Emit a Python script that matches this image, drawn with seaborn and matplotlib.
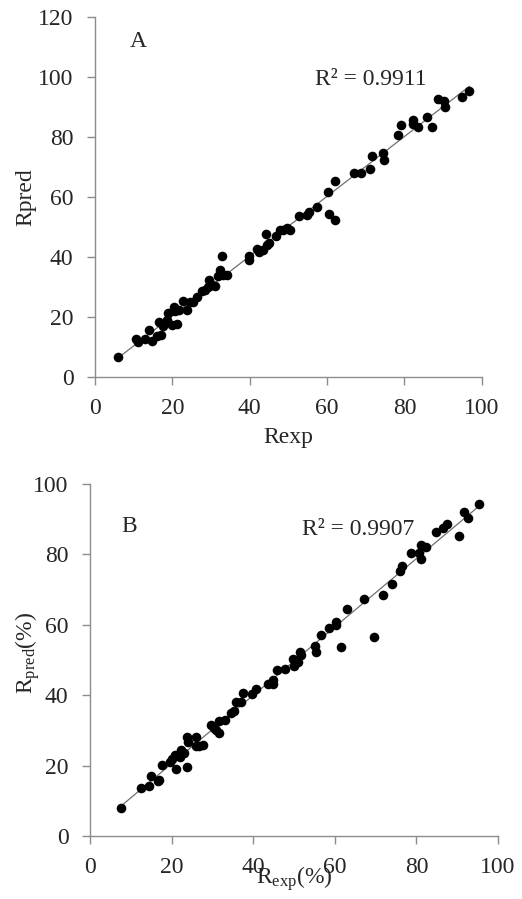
import numpy as np
import pandas as pd
import seaborn as sns
import matplotlib.pyplot as plt

# panel A data
rexp_a = [6.0, 10.6, 11.0, 12.9, 14.0, 14.7, 16.0, 16.6, 17.1, 17.7, 18.5, 19.0, 19.8, 20.3,
          21.3, 20.7, 21.8, 22.8, 23.7, 24.6, 25.4, 26.3, 27.6, 28.4, 29.3, 29.6, 30.2, 31.0,
          31.9, 32.3, 32.9, 33.2, 34.1, 39.7, 39.9, 41.8, 42.5, 43.5, 44.1, 45.1, 44.4, 46.8,
          47.8, 48.7, 49.6, 50.3, 52.8, 54.7, 55.2, 57.5, 60.2, 60.5, 62.1, 62.1, 67.0, 68.8,
          71.1, 71.5, 74.4, 74.8, 78.4, 79.0, 82.1, 82.3, 83.6, 85.8, 87.1, 88.8, 90.1, 90.5,
          95.0, 96.8]
rpred_a = [6.7, 12.7, 11.7, 12.7, 15.7, 12.0, 13.6, 18.2, 14.1, 16.9, 19.1, 21.3, 17.4, 23.2,
           17.7, 21.9, 22.4, 25.2, 22.4, 25.0, 25.0, 26.7, 28.6, 29.1, 29.9, 32.4, 30.8, 30.4,
           33.8, 35.8, 40.2, 34.1, 34.1, 39.1, 40.2, 42.7, 41.6, 42.4, 47.7, 44.7, 44.1, 47.1,
           48.9, 49.1, 49.7, 49.1, 53.6, 54.1, 55.0, 56.7, 61.6, 54.4, 52.2, 65.2, 68.1, 68.1,
           69.2, 73.7, 74.8, 72.3, 80.6, 84.0, 85.7, 84.3, 83.2, 86.8, 83.2, 92.6, 92.1, 90.1,
           93.4, 95.3]

# panel B data
rexp_b = [7.6, 12.5, 14.4, 14.9, 16.6, 17.0, 17.7, 19.6, 20.2, 20.8, 21.2, 22.0, 22.4, 23.0,
          23.8, 23.8, 24.1, 25.9, 26.1, 26.8, 27.6, 29.6, 30.4, 31.0, 31.6, 31.7, 33.1, 34.5,
          35.3, 35.7, 37.1, 37.6, 39.8, 40.8, 43.7, 44.9, 44.9, 45.9, 47.8, 50.0, 49.8, 51.0,
          51.4, 51.7, 55.1, 55.5, 61.6, 56.7, 58.5, 60.2, 60.4, 63.0, 67.2, 69.6, 71.8, 73.9,
          75.9, 76.5, 78.8, 80.7, 81.1, 81.2, 82.4, 84.7, 86.4, 87.6, 90.4, 91.7, 92.7, 95.3]
rpred_b = [8.0, 13.6, 14.3, 17.0, 15.7, 15.9, 20.3, 21.0, 22.0, 23.0, 18.9, 22.3, 24.4, 23.5,
           28.2, 19.5, 26.6, 28.2, 25.6, 25.7, 25.9, 31.5, 30.6, 30.1, 32.7, 29.2, 33.0, 34.8,
           35.6, 38.1, 38.1, 40.7, 40.2, 41.7, 43.2, 44.3, 43.2, 47.2, 47.3, 48.4, 50.3, 49.5,
           52.4, 51.3, 54.0, 52.4, 53.8, 57.1, 59.0, 60.9, 59.9, 64.4, 67.4, 56.4, 68.4, 71.7,
           75.3, 76.7, 80.3, 80.3, 78.8, 82.7, 82.2, 86.3, 87.6, 88.6, 85.2, 91.9, 90.2, 94.2]

sns.set_style("white")
plt.rcParams['font.family'] = ['Liberation Serif', 'DejaVu Serif']
plt.rcParams['mathtext.fontset'] = 'custom'
plt.rcParams['mathtext.rm'] = 'Liberation Serif'
plt.rcParams['mathtext.it'] = 'Liberation Serif:italic'

fs = 17
grey = '#8c8c8c'

fig = plt.figure(figsize=(5.22, 8.99), dpi=100)
ax_a = fig.add_axes([0.182, 0.5806, 0.741, 0.4005])
ax_b = fig.add_axes([0.1724, 0.0701, 0.7816, 0.3916])


def panel(ax, x, y, ymax, letter, letter_xy, r2, r2_xy, xlab, ylab):
    df = pd.DataFrame({'x': x, 'y': y})
    sns.regplot(data=df, x='x', y='y', ax=ax, scatter=False, ci=None, truncate=True,
                line_kws={'color': '#707070', 'lw': 0.9})
    sns.scatterplot(data=df, x='x', y='y', ax=ax, color='black', s=48,
                    edgecolor='black', linewidth=0, zorder=3)
    ax.set_xlim(0, 100)
    ax.set_ylim(0, ymax)
    ax.set_xticks(range(0, 101, 20))
    ax.set_yticks(range(0, ymax + 1, 20))
    for side in ['top', 'right']:
        ax.spines[side].set_visible(False)
    for side in ['left', 'bottom']:
        ax.spines[side].set_color(grey)
        ax.spines[side].set_linewidth(1.0)
    ax.tick_params(direction='out', length=5.5, width=1, color=grey,
                   labelsize=fs, left=True, bottom=True)
    ax.tick_params(axis='x', pad=9.5)
    ax.tick_params(axis='y', pad=10)
    ax.set_xlabel(xlab, fontsize=fs)
    ax.set_ylabel(ylab, fontsize=fs)
    ax.text(*letter_xy, letter, fontsize=fs, va='center')
    ax.text(*r2_xy, r2, fontsize=fs, va='center')


panel(ax_a, rexp_a, rpred_a, 120, 'A', (9.0, 111.8), 'R² = 0.9911', (56.8, 99.2),
      'Rexp', 'Rpred')
panel(ax_b, rexp_b, rpred_b, 100, 'B', (7.8, 87.8), 'R² = 0.9907', (52.0, 87.0),
      r'R$_{\mathrm{exp}}$(%)', r'R$_{\mathrm{pred}}$(%)')

ax_a.xaxis.set_label_coords(0.5, -0.138)
ax_a.yaxis.set_label_coords(-0.152, 0.5)
ax_b.xaxis.set_label_coords(0.5, -0.08)
ax_b.yaxis.set_label_coords(-0.118, 0.52)

fig.savefig('out.png', dpi=100)
